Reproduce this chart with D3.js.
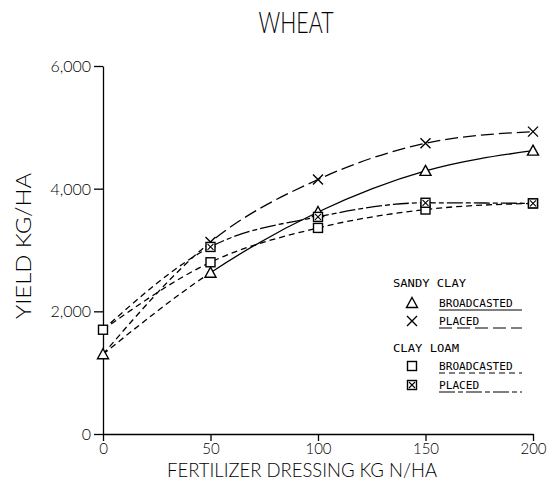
<!DOCTYPE html>
<html><head><meta charset="utf-8">
<script src="https://cdn.jsdelivr.net/npm/d3@7"></script>
<style>body{margin:0;background:#fff}svg{display:block}</style>
</head><body>
<svg id="c" width="549" height="488"></svg>
<script>
const doses = [0, 50, 100, 150, 200];
const sandyBroadcast = [1300, 2630, 3620, 4290, 4620];
const sandyPlaced = [1300, 3130, 4150, 4740, 4930];
const loamBroadcast = [1700, 2800, 3360, 3660, 3760];
const loamPlaced = [1700, 3050, 3540, 3770, 3760];
const yTicks = [0, 2000, 4000, 6000];
const xTicks = [0, 50, 100, 150, 200];
const title = "WHEAT";
const xLabel = "FERTILIZER DRESSING KG N/HA";
const yLabel = "YIELD KG/HA";

const series = [
  {name: "BROADCASTED", group: "SANDY CLAY", values: sandyBroadcast, marker: "triangle", dash: null},
  {name: "PLACED", group: "SANDY CLAY", values: sandyPlaced, marker: "x", dash: "13,5"},
  {name: "BROADCASTED", group: "CLAY LOAM", values: loamBroadcast, marker: "square", dash: "6,4"},
  {name: "PLACED", group: "CLAY LOAM", values: loamPlaced, marker: "xsquare", dash: "16,3,5,3"}
];

const svg = d3.select("#c");
const x = d3.scaleLinear().domain([0, 200]).range([103, 533]);
const y = d3.scaleLinear().domain([0, 6000]).range([434, 66]);
const font = "Lato, 'Open Sans', sans-serif";

// Axes
const xAxis = svg.append("g").attr("transform", `translate(0,${y(0)})`)
  .call(d3.axisBottom(x).tickValues(xTicks).tickSize(7).tickSizeOuter(0).tickPadding(2));
const yAxis = svg.append("g").attr("transform", `translate(${x(0)},0)`)
  .call(d3.axisLeft(y).tickValues(yTicks).tickSize(9).tickSizeOuter(0).tickPadding(3)
    .tickFormat(d3.format(",")));
[xAxis, yAxis].forEach(g => {
  g.selectAll("path,line").attr("stroke", "#000").attr("stroke-width", 1.3);
  g.selectAll("text").attr("fill", "#000").attr("font-family", font)
    .attr("font-weight", 300).attr("font-size", 15);
});
xAxis.selectAll("text").attr("dy", "0.72em");
yAxis.selectAll("text").attr("dy", "0.35em").attr("font-size", 16);

// Clip regions: first segment (0-50) dashed, remainder series style
const defs = svg.append("defs");
defs.append("clipPath").attr("id", "clipA").append("rect")
  .attr("x", 0).attr("y", 0).attr("width", x(50)).attr("height", 488);
defs.append("clipPath").attr("id", "clipB").append("rect")
  .attr("x", x(50)).attr("y", 0).attr("width", 549 - x(50)).attr("height", 488);

const line = d3.line().x((d, i) => x(doses[i])).y(d => y(d)).curve(d3.curveMonotoneX);
const lines = svg.append("g").attr("fill", "none").attr("stroke", "#000").attr("stroke-width", 1.3);
series.forEach(s => {
  lines.append("path").attr("d", line(s.values)).attr("clip-path", "url(#clipA)")
    .attr("stroke-dasharray", "6,4");
  lines.append("path").attr("d", line(s.values)).attr("clip-path", "url(#clipB)")
    .attr("stroke-dasharray", s.dash);
});

function drawMarker(g, type, cx, cy) {
  const m = g.append("g").attr("transform", `translate(${cx},${cy})`)
    .attr("fill", "#fff").attr("stroke", "#000").attr("stroke-width", 1.4);
  if (type === "triangle") {
    m.append("path").attr("d", "M0,-5.5L5.5,4.5L-5.5,4.5Z");
  } else if (type === "x") {
    m.append("path").attr("d", "M-5,-5L5,5M-5,5L5,-5").attr("fill", "none");
  } else if (type === "square") {
    m.append("rect").attr("x", -4.5).attr("y", -4.5).attr("width", 9).attr("height", 9);
  } else if (type === "xsquare") {
    m.append("rect").attr("x", -4.5).attr("y", -4.5).attr("width", 9).attr("height", 9);
    m.append("path").attr("d", "M-3,-3L3,3M-3,3L3,-3").attr("fill", "none").attr("stroke-width", 1.1);
  }
}
const marks = svg.append("g");
series.forEach(s => {
  s.values.forEach((v, i) => {
    if (i === 0 && s.name === "PLACED") return; // shared control point
    drawMarker(marks, s.marker, x(doses[i]), y(v));
  });
});

// Titles
svg.append("text").attr("x", 296).attr("y", 33).attr("text-anchor", "middle")
  .attr("font-family", font).attr("font-weight", 300).attr("font-size", 30)
  .attr("textLength", 75).attr("lengthAdjust", "spacingAndGlyphs").text(title);
svg.append("text").attr("x", 302).attr("y", 477).attr("text-anchor", "middle")
  .attr("font-family", font).attr("font-weight", 300).attr("font-size", 20)
  .attr("textLength", 270).attr("lengthAdjust", "spacingAndGlyphs").text(xLabel);
svg.append("text").attr("transform", "translate(31,246) rotate(-90)").attr("text-anchor", "middle")
  .attr("font-family", font).attr("font-weight", 300).attr("font-size", 21)
  .attr("textLength", 146).attr("lengthAdjust", "spacingAndGlyphs").text(yLabel);

// Legend
const lg = svg.append("g").attr("font-family", "'DejaVu Sans Mono', monospace").attr("font-size", 11).attr("fill", "#000");
const rowsY = [283, 303, 321, 348, 366, 385];
lg.append("text").attr("x", 393).attr("y", rowsY[0] + 4).attr("textLength", 73).attr("lengthAdjust", "spacingAndGlyphs").text(series[0].group);
lg.append("text").attr("x", 393).attr("y", rowsY[3] + 4).attr("textLength", 66).attr("lengthAdjust", "spacingAndGlyphs").text(series[2].group);
const entryY = [rowsY[1], rowsY[2], rowsY[4], rowsY[5]];
series.forEach((s, i) => {
  const yy = entryY[i];
  drawMarker(lg, s.marker, 412, yy);
  lg.append("text").attr("x", 439).attr("y", yy + 4)
    .attr("textLength", s.name.length * 6.7).attr("lengthAdjust", "spacingAndGlyphs").text(s.name);
  lg.append("line").attr("x1", 439).attr("x2", 522).attr("y1", yy + 7).attr("y2", yy + 7)
    .attr("stroke", "#000").attr("stroke-width", 1).attr("stroke-dasharray", s.dash);
});
</script>
</body></html>
